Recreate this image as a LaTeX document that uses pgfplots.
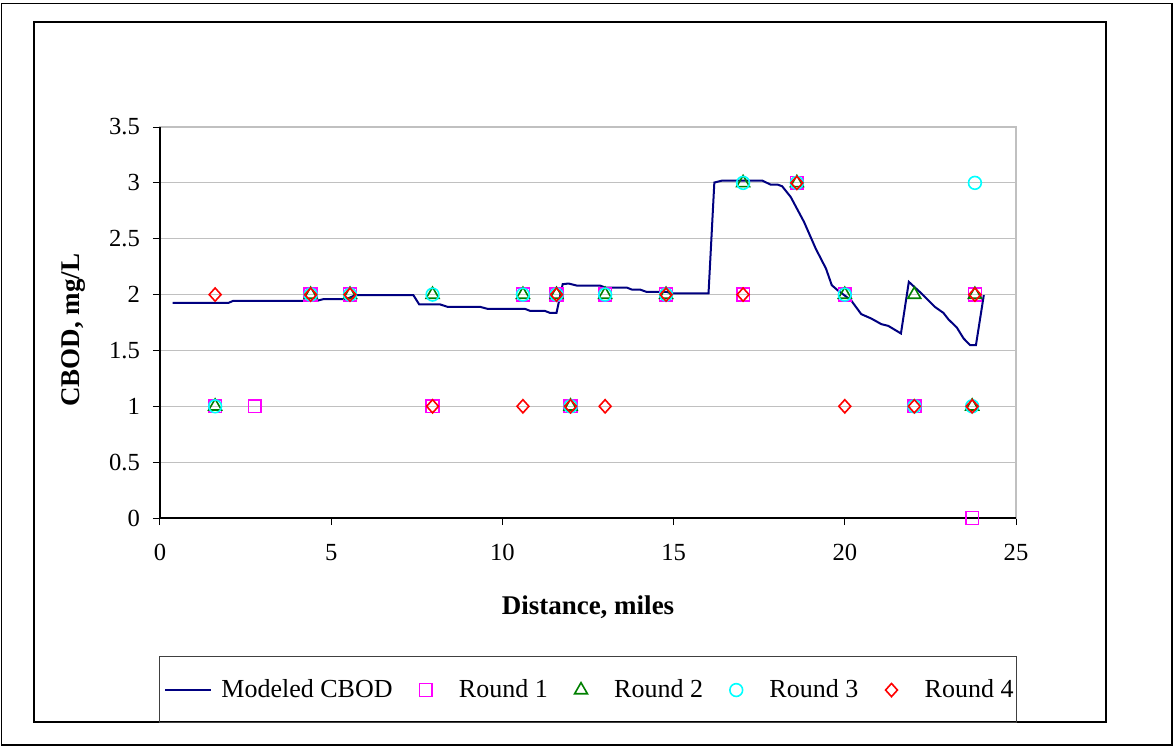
\documentclass[border=0pt]{standalone}
\usepackage{fontspec}
\setmainfont{Liberation Serif}
\usepackage{pgfplots}
\pgfplotsset{compat=1.18}
\definecolor{navyline}{HTML}{000080}
\definecolor{mag}{HTML}{FF00FF}
\definecolor{grn}{HTML}{008000}
\definecolor{cyn}{HTML}{00FFFF}
\definecolor{rd}{HTML}{FF0000}
\definecolor{gridc}{HTML}{C0C0C0}
\begin{document}
\begin{tikzpicture}
\def\PX#1#2{({(#1-160)*0.5pt},{(518-#2)*0.5pt})}
\useasboundingbox \PX{0}{0} rectangle \PX{1173}{746};
\draw[line width=0.6pt] \PX{1.5}{3.5} rectangle \PX{1172}{745};
\draw[line width=0.6pt] \PX{34}{22} rectangle \PX{1106}{722};
\draw[line width=0.5pt, black!75] \PX{160}{656} rectangle \PX{1016}{722};
\begin{axis}[
  at={(0,0)}, anchor=south west,
  scale only axis, width=428pt, height=195.5pt,
  xmin=0, xmax=25, ymin=0, ymax=3.5,
  xtick={0,5,...,25}, ytick={0,0.5,...,3.5},
  ymajorgrids, grid style={gridc, line width=0.5pt},
  axis line style={gridc, line width=0.6pt},
  tick align=outside, major tick length=3.5pt,
  tick style={black, line width=0.5pt},
  xtick pos=bottom, ytick pos=left,
  clip=false,
  /pgf/number format/assume math mode=true,
  tick label style={font=\fontsize{12.3}{14}\selectfont},
  xticklabel style={yshift=-6pt},
  yticklabel style={xshift=-3pt},
  xlabel={\bfseries Distance, miles},
  ylabel={\bfseries CBOD, mg/L},
  label style={font=\fontsize{13.5}{15}\selectfont},
  xlabel style={at={(axis description cs:0.5,-0.2276)}, anchor=center},
  ylabel style={at={(axis description cs:-0.1005,0.48)}, anchor=center},
  legend columns=5,
  legend style={at={(axis description cs:0.0047,-0.44)}, anchor=west,
    draw=none, fill=none, inner sep=0pt, outer sep=0pt,
    column sep=4.7pt, font=\fontsize{13}{15}\selectfont,
    nodes={inner sep=0pt}},
  legend image code/.code={\path (0pt,0pt) (23pt,0pt);
    \draw[mark repeat=2,mark phase=2,#1] plot coordinates {(0pt,0pt) (11.5pt,0pt) (23pt,0pt)};},
]
\addplot[navyline, line width=1pt, mark=none] coordinates {
(0.37,1.926) (2.00,1.926) (2.14,1.944) (4.58,1.944) (4.77,1.959) (5.45,1.959)
(5.70,1.995) (7.40,1.995) (7.57,1.912) (8.18,1.912) (8.40,1.890) (9.35,1.890)
(9.57,1.872) (10.66,1.872) (10.81,1.854) (11.24,1.854) (11.39,1.836) (11.58,1.836)
(11.76,2.093) (11.93,2.099) (12.17,2.081) (12.85,2.081) (13.00,2.063) (13.63,2.063)
(13.78,2.045) (14.02,2.045) (14.21,2.024) (14.80,2.024) (14.94,2.010) (16.02,2.010)
(16.19,3.003) (16.41,3.020) (17.59,3.020) (17.83,2.985) (18.03,2.985) (18.17,2.970)
(18.42,2.874) (18.81,2.650) (19.15,2.412) (19.45,2.233) (19.62,2.084) (19.79,2.039)
(20.18,1.950) (20.48,1.825) (20.77,1.786) (21.07,1.735) (21.27,1.720) (21.64,1.652)
(21.87,2.114) (22.24,2.010) (22.63,1.890) (22.88,1.836) (23.03,1.777) (23.27,1.706)
(23.47,1.607) (23.66,1.547) (23.83,1.547) (24.06,1.995)
};
\addlegendentry{Modeled CBOD}
\addplot[only marks, mark=square, mag, mark size=3.2pt, line width=0.8pt] coordinates {
(1.61,1) (2.77,1) (4.40,2) (5.55,2) (7.96,1) (10.60,2) (11.58,2) (11.99,1)
(13.00,2) (14.78,2) (17.03,2) (18.60,3) (20.00,2) (22.03,1) (23.80,2) (23.72,0)
};
\addlegendentry{Round 1}
\addplot[only marks, mark=triangle, grn, mark size=3.7pt, line width=0.8pt] coordinates {
(1.61,1) (4.40,2) (5.55,2) (7.96,2) (10.60,2) (11.58,2) (11.99,1) (13.00,2)
(14.78,2) (17.03,3) (18.60,3) (20.00,2) (22.03,2) (23.80,2) (23.72,1)
};
\addlegendentry{Round 2}
\addplot[only marks, mark=o, cyn, mark size=3.2pt, line width=0.8pt] coordinates {
(1.61,1) (4.40,2) (5.55,2) (7.96,2) (10.60,2) (11.58,2) (11.99,1) (13.00,2)
(14.78,2) (17.03,3) (18.60,3) (20.00,2) (22.03,1) (23.80,3) (23.72,1)
};
\addlegendentry{Round 3}
\addplot[only marks, mark=diamond, rd, mark size=3.3pt, line width=0.8pt,
  mark options={xscale=1.2}] coordinates {
(1.61,2) (4.40,2) (5.55,2) (7.96,1) (10.60,1) (11.58,2) (11.99,1) (13.00,1)
(14.78,2) (17.03,2) (18.60,3) (20.00,1) (22.03,1) (23.80,2) (23.72,1)
};
\addlegendentry{Round 4}
\draw[black, line width=0.7pt] (rel axis cs:0,1) -- (rel axis cs:0,0) -- (rel axis cs:1,0);
\end{axis}
\end{tikzpicture}
\end{document}
